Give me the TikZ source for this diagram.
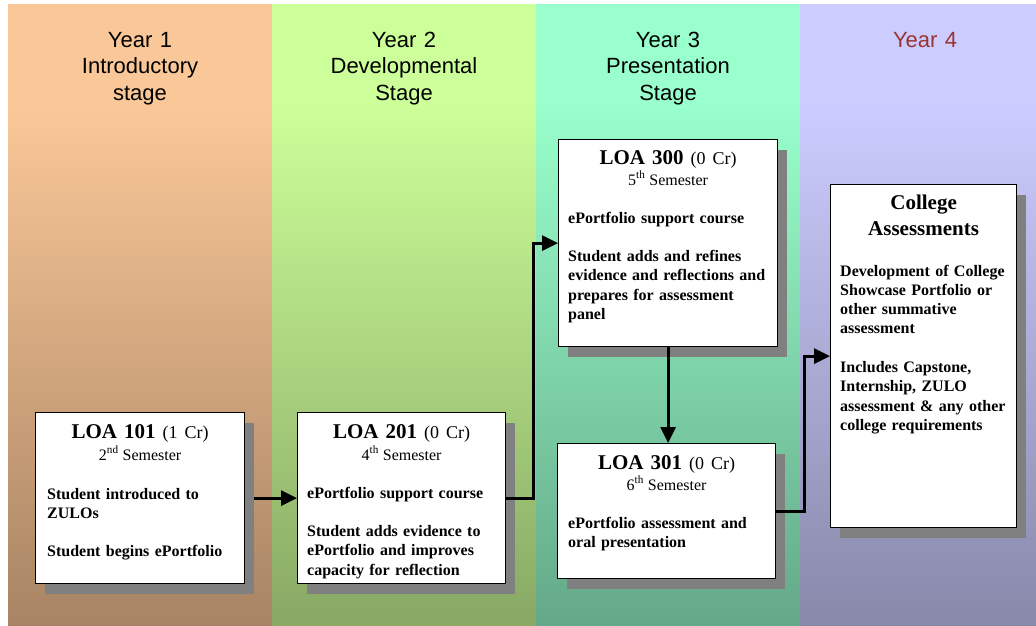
\documentclass[tikz,border=0pt]{standalone}
\usepackage{fontspec}
\setmainfont{Liberation Serif}
\newfontfamily\headfont{Liberation Sans}
\usetikzlibrary{arrows.meta,shadows,positioning}

\definecolor{yearonetop}{HTML}{FAC898}
\definecolor{yearonebot}{HTML}{A88464}
\definecolor{yeartwotop}{HTML}{CCFF99}
\definecolor{yeartwobot}{HTML}{88A864}
\definecolor{yearthreetop}{HTML}{99FFCC}
\definecolor{yearthreebot}{HTML}{64A888}
\definecolor{yearfourtop}{HTML}{CCCCFF}
\definecolor{yearfourbot}{HTML}{8888AA}
\definecolor{yearfourtext}{HTML}{993333}
\definecolor{shadowgray}{HTML}{808080}

\tikzset{
	course/.style={draw=black, line width=1.2pt, fill=white, anchor=north west, inner sep=0pt,
		drop shadow={shadow xshift=9pt, shadow yshift=-10pt, fill=shadowgray, opacity=1}},
	coursetitle/.style={anchor=base, inner sep=0pt, text width=200pt, align=center,
		font=\fontsize{21}{26}\selectfont\bfseries},
	semester/.style={anchor=base, inner sep=0pt, font=\fontsize{16}{19}\selectfont},
	coursebody/.style={anchor=base west, inner sep=0pt, align=left,
		font=\fontsize{16}{19.3}\selectfont\bfseries},
	yearhead/.style={anchor=base, inner sep=0pt, text width=240pt, align=center,
		font=\headfont\fontsize{22}{26.5}\selectfont},
	flow/.style={line width=3pt, -{Triangle[length=16pt,width=15pt]}},
}

\begin{document}
\begin{tikzpicture}[x=1pt,y=-1pt]
	\newcommand\credits[1]{{\mdseries\fontsize{18}{20}\selectfont(#1 Cr)}}
	\path[use as bounding box, fill=white] (0,0) rectangle (1036,625);
	% year columns
	\foreach \xl/\xr/\ctop/\cbot in {8/272/yearonetop/yearonebot, 272/536/yeartwotop/yeartwobot,
		536/800/yearthreetop/yearthreebot, 800/1036/yearfourtop/yearfourbot} {
		\fill[\ctop] (\xl,4) rectangle (\xr,105);
		\fill[top color=\ctop, bottom color=\cbot] (\xl,104.5) rectangle (\xr,625);
	}
	\node[yearhead] (year1) at (140,47) {Year 1\\Introductory\\stage};
	\node[yearhead] (year2) at (404,47) {Year 2\\Developmental\\Stage};
	\node[yearhead] (year3) at (668,47) {Year 3\\Presentation\\Stage};
	\node[yearhead, text=yearfourtext] (year4) at (925,47) {Year 4};

	% courses
	\node[course, minimum width=209pt, minimum height=171pt] (loa101) at (35,412) {};
	\node[coursetitle] (loa101title) at ([yshift=-26pt]loa101.north) {LOA 101 \credits{1}};
	\node[semester] (loa101sem) at ([yshift=-48pt]loa101.north) {2\textsuperscript{nd} Semester};
	\node[coursebody, text width=192pt] (loa101body) at ([xshift=12pt,yshift=-87pt]loa101.north west)
		{Student introduced to\\ZULOs\\[19.3pt]Student begins ePortfolio};

	\node[course, minimum width=208pt, minimum height=171pt] (loa201) at (297,412) {};
	\node[coursetitle] (loa201title) at ([yshift=-26pt]loa201.north) {LOA 201 \credits{0}};
	\node[semester] (loa201sem) at ([yshift=-48pt]loa201.north) {4\textsuperscript{th} Semester};
	\node[coursebody, text width=194pt] (loa201body) at ([xshift=10pt,yshift=-86pt]loa201.north west)
		{ePortfolio support course\\[19.3pt]Student adds evidence to\\ePortfolio and improves\\capacity for reflection};

	\node[course, minimum width=219pt, minimum height=207pt] (loa300) at (558,139) {};
	\node[coursetitle] (loa300title) at ([yshift=-25pt]loa300.north) {LOA 300 \credits{0}};
	\node[semester] (loa300sem) at ([yshift=-46pt]loa300.north) {5\textsuperscript{th} Semester};
	\node[coursebody, text width=205pt] (loa300body) at ([xshift=10pt,yshift=-84pt]loa300.north west)
		{ePortfolio support course\\[19.3pt]Student adds and refines\\evidence and reflections and\\prepares for assessment\\panel};

	\node[course, minimum width=218pt, minimum height=135pt] (loa301) at (557,443) {};
	\node[coursetitle] (loa301title) at ([yshift=-26pt]loa301.north) {LOA 301 \credits{0}};
	\node[semester] (loa301sem) at ([yshift=-47pt]loa301.north) {6\textsuperscript{th} Semester};
	\node[coursebody, text width=204pt] (loa301body) at ([xshift=11pt,yshift=-85pt]loa301.north west)
		{ePortfolio assessment and\\oral presentation};

	\node[course, minimum width=186pt, minimum height=343pt] (college) at (830,184) {};
	\node[coursetitle] (collegetitle) at ([yshift=-25pt]college.north) {College\\Assessments};
	\node[coursebody, text width=172pt] (collegebody) at ([xshift=10pt,yshift=-92pt]college.north west)
		{Development of College\\Showcase Portfolio or\\other summative\\assessment\\[19.3pt]Includes Capstone,\\Internship, ZULO\\assessment \& any other\\college requirements};

	% flow between courses
	\draw[flow] ([xshift=9pt]loa101.east) -- (loa201.west);
	\draw[flow] (loa201.east) -- ++(27,0) |- (loa300.west);
	\draw[flow] (loa300.south) -- (loa300.south |- loa301.north);
	\draw[flow] (loa301.east) -- ++(28,0) |- (college.west);
\end{tikzpicture}
\end{document}
